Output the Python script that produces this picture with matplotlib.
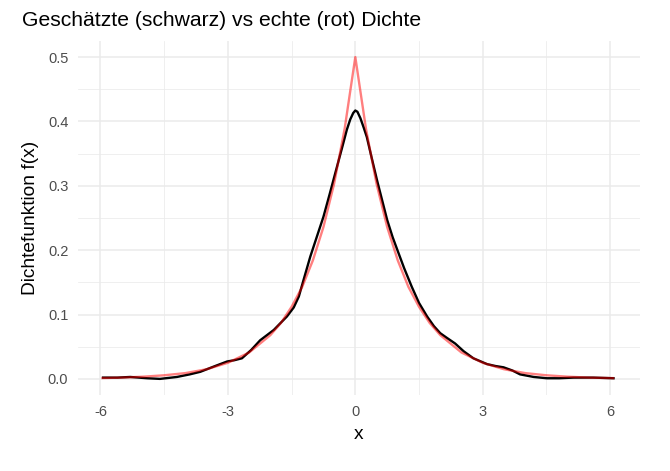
import matplotlib
matplotlib.use("Agg")
import matplotlib.pyplot as plt
from matplotlib.ticker import MultipleLocator

# geschaetzte Dichte (schwarz)
est_x = [-5.94, -5.6, -5.3, -4.9, -4.6, -4.2, -3.9, -3.65, -3.3, -3.02, -2.85, -2.67,
         -2.45, -2.24, -1.92, -1.61, -1.45, -1.33, -1.2, -1.06, -0.9, -0.75, -0.6,
         -0.43, -0.3, -0.2, -0.12, -0.05, 0.0, 0.05, 0.12, 0.2, 0.27, 0.38, 0.51,
         0.63, 0.75, 0.88, 1.02, 1.15, 1.33, 1.5, 1.69, 1.85, 2.0, 2.15, 2.35, 2.55,
         2.78, 3.1, 3.3, 3.49, 3.7, 3.88, 4.2, 4.51, 4.8, 5.14, 5.6, 6.08]
est_y = [0.002, 0.002, 0.003, 0.001, 0.000, 0.003, 0.007, 0.011, 0.020, 0.027, 0.029, 0.032,
         0.045, 0.060, 0.076, 0.097, 0.111, 0.128, 0.158, 0.190, 0.222, 0.252, 0.288,
         0.330, 0.362, 0.387, 0.403, 0.413, 0.417, 0.415, 0.405, 0.390, 0.376, 0.345, 0.309,
         0.278, 0.247, 0.220, 0.195, 0.172, 0.143, 0.118, 0.097, 0.082, 0.071, 0.064, 0.055, 0.043,
         0.032, 0.023, 0.020, 0.018, 0.013, 0.007, 0.003, 0.001, 0.001, 0.002, 0.002, 0.001]

# echte Dichte (rot)
true_x = [-5.95, -5.5, -5.0, -4.5, -4.0, -3.5, -3.0, -2.5, -2.0, -1.75, -1.5, -1.25,
          -1.0, -0.75, -0.5, -0.25, 0.0, 0.25, 0.5, 0.75, 1.0, 1.25, 1.5, 1.75,
          2.0, 2.5, 3.0, 3.5, 4.0, 4.5, 5.0, 5.5, 6.07]
true_y = [0.0013, 0.002, 0.0034, 0.0056, 0.009, 0.015, 0.025, 0.041, 0.068, 0.087, 0.112, 0.143,
          0.184, 0.236, 0.303, 0.389, 0.500, 0.389, 0.303, 0.236, 0.184, 0.143, 0.112, 0.087,
          0.068, 0.041, 0.025, 0.015, 0.009, 0.0056, 0.0034, 0.002, 0.0012]

plt.rcParams['font.family'] = ['Liberation Sans', 'DejaVu Sans']

fig = plt.figure(figsize=(6.7, 4.71), dpi=100)
ax = fig.add_axes([0.1164, 0.1614, 0.8386, 0.7516])

ax.plot(est_x, est_y, color='black', lw=1.7, zorder=3, solid_joinstyle='round')
ax.plot(true_x, true_y, color='red', lw=1.7, alpha=0.5, zorder=4)

ax.set_xlim(-6.53, 6.7)
ax.set_ylim(-0.025, 0.525)
ax.xaxis.set_minor_locator(MultipleLocator(1.5))
ax.yaxis.set_minor_locator(MultipleLocator(0.05))
ax.set_xticks([-6, -3, 0, 3, 6])
ax.set_xticklabels(['-6', '-3', '0', '3', '6'])
ax.set_yticks([0, 0.1, 0.2, 0.3, 0.4, 0.5])
ax.set_yticklabels(['0.0', '0.1', '0.2', '0.3', '0.4', '0.5'])

ax.grid(which='major', color='#EBEBEB', lw=1.1, zorder=0)
ax.grid(which='minor', color='#EBEBEB', lw=0.55, zorder=0)
for s in ax.spines.values():
    s.set_visible(False)
ax.tick_params(which='both', length=0, labelsize=10.5, labelcolor='#4D4D4D', pad=7)

ax.set_xlabel('x', fontsize=13.8, labelpad=5)
ax.set_ylabel('Dichtefunktion f(x)', fontsize=13.8, labelpad=6)
fig.text(0.033, 0.945, 'Geschätzte (schwarz) vs echte (rot) Dichte', fontsize=15.2)

fig.savefig('out.png', dpi=100)
